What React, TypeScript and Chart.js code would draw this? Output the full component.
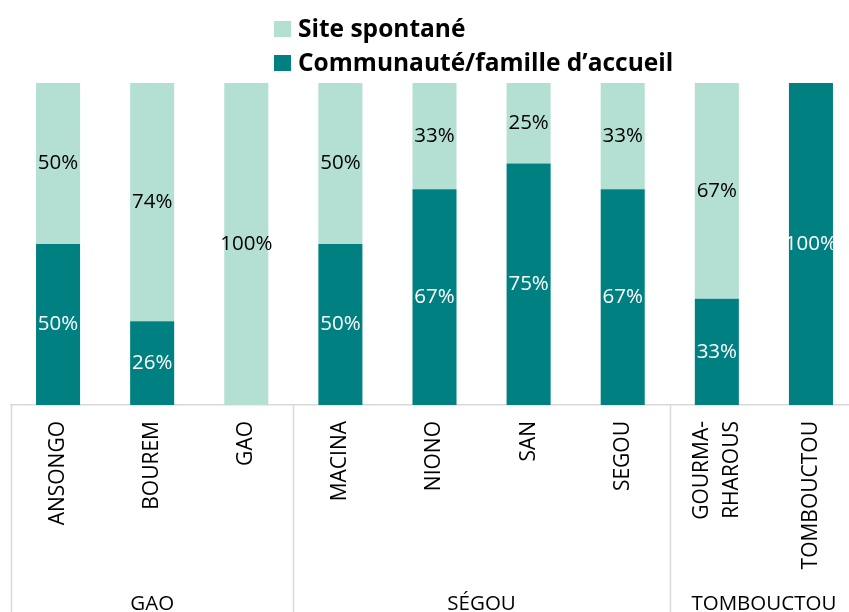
import React, { useEffect, useRef } from "react";
import { Chart, registerables } from "chart.js";

Chart.register(...registerables);

const categories: (string | string[])[] = [
  "ANSONGO",
  "BOUREM",
  "GAO",
  "MACINA",
  "NIONO",
  "SAN",
  "SEGOU",
  ["GOURMA-", "RHAROUS"],
  "TOMBOUCTOU",
];
const groups = ["GAO", "SÉGOU", "TOMBOUCTOU"];
const groupSizes = [3, 4, 2];
const communaute = [50, 26, 0, 50, 67, 75, 67, 33, 100];
const siteSpontane = [50, 74, 100, 50, 33, 25, 33, 67, 0];
const seriesNames = ["Communauté/famille d’accueil", "Site spontané"];

const DARK = "#008080";
const LIGHT = "#B3E0D3";
const GRID = "#D9D9D9";

const overlayPlugin = {
  id: "overlay",
  beforeDraw(chart: any) {
    // center multi-line rotated tick labels on their category
    const xs = chart.scales.x;
    const items = xs.getLabelItems();
    items.forEach((it: any) => {
      const lines = Array.isArray(it.label) ? it.label.length : 1;
      if (lines > 1 && !it._shifted) {
        const lh = it.options.font ? it.options.font.lineHeight : 29;
        it.options.translation = [
          it.options.translation[0] - ((lines - 1) * lh) / 2,
          it.options.translation[1],
        ];
        it._shifted = true;
      }
    });
  },
  afterDatasetsDraw(chart: any) {
    const ctx = chart.ctx;
    ctx.save();
    ctx.font = "20.5px 'Open Sans'";
    ctx.textAlign = "center";
    ctx.textBaseline = "middle";
    chart.data.datasets.forEach((ds: any, di: number) => {
      const meta = chart.getDatasetMeta(di);
      meta.data.forEach((el: any, i: number) => {
        const v = ds.data[i];
        if (!v) return;
        ctx.fillStyle = di === 0 ? "#FFFFFF" : "#000000";
        ctx.fillText(v + "%", el.x, (el.y + el.base) / 2);
      });
    });
    ctx.restore();
  },
  afterDraw(chart: any) {
    const ctx = chart.ctx;
    const area = chart.chartArea;
    const catW = (area.right - area.left) / categories.length;
    ctx.save();
    // separators
    ctx.strokeStyle = GRID;
    ctx.lineWidth = 1.5;
    let k = 0;
    const bounds = [0];
    groupSizes.forEach((s) => {
      k += s;
      bounds.push(k);
    });
    bounds.forEach((b) => {
      const x = Math.round(area.left + b * catW) + 0.5;
      ctx.beginPath();
      ctx.moveTo(x, area.bottom);
      ctx.lineTo(x, chart.height);
      ctx.stroke();
    });
    // group labels
    ctx.fillStyle = "#000";
    ctx.font = "20.5px 'Open Sans'";
    ctx.textAlign = "center";
    ctx.textBaseline = "alphabetic";
    groups.forEach((g, gi) => {
      const x0 = area.left + bounds[gi] * catW;
      const x1 = area.left + bounds[gi + 1] * catW;
      ctx.fillText(g, (x0 + x1) / 2, 610);
    });
    // legend
    const legendItems = [
      { label: seriesNames[1], color: LIGHT },
      { label: seriesNames[0], color: DARK },
    ];
    ctx.font = "bold 24.5px 'Open Sans'";
    ctx.textAlign = "left";
    legendItems.forEach((it, i) => {
      const y = 21 + i * 34;
      ctx.fillStyle = it.color;
      ctx.fillRect(274, y, 17, 16);
      ctx.fillStyle = "#000";
      ctx.fillText(it.label, 298, y + 16);
    });
    ctx.restore();
  },
};

export default function App() {
  const ref = useRef<HTMLCanvasElement>(null);
  useEffect(() => {
    if (!ref.current) return;
    const chart = new Chart(ref.current, {
      type: "bar",
      data: {
        labels: categories,
        datasets: [
          {
            label: seriesNames[0],
            data: communaute,
            backgroundColor: DARK,
            categoryPercentage: 1,
            barPercentage: 0.468,
          },
          {
            label: seriesNames[1],
            data: siteSpontane,
            backgroundColor: LIGHT,
            categoryPercentage: 1,
            barPercentage: 0.468,
          },
        ],
      },
      options: {
        animation: false,
        responsive: false,
        devicePixelRatio: 1,
        layout: { padding: { left: 11, right: 2, top: 83, bottom: 0 } },
        plugins: {
          legend: { display: false },
          tooltip: { enabled: false },
        },
        scales: {
          x: {
            stacked: true,
            grid: { display: false, drawTicks: false },
            border: { display: true, color: GRID, width: 1.5 },
            ticks: {
              autoSkip: false,
              minRotation: 90,
              maxRotation: 90,
              padding: 16,
              color: "#000",
              font: { family: "'Open Sans'", size: 21, lineHeight: 1.4 },
            },
            afterFit: (scale: any) => {
              scale.height = 207;
            },
          },
          y: {
            stacked: true,
            display: false,
            min: 0,
            max: 100,
          },
        },
      },
      plugins: [overlayPlugin],
    });
    return () => chart.destroy();
  }, []);
  return (
    <div
      style={{
        position: "fixed",
        left: 0,
        top: 0,
        width: 849,
        height: 612,
        overflow: "hidden",
        background: "#fff",
      }}
    >
      <canvas ref={ref} width={860} height={612} />
    </div>
  );
}
